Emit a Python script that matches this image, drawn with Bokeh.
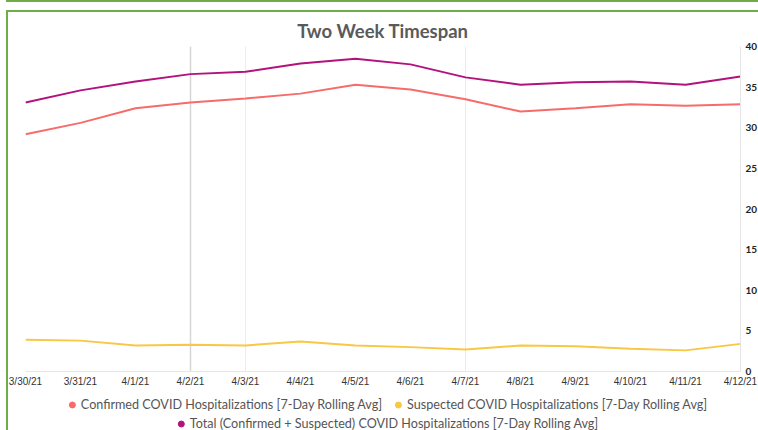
from bokeh.plotting import figure
from bokeh.layouts import column
from bokeh.models import (ColumnDataSource, Range1d, FixedTicker, Legend, LegendItem, Grid)
from bokeh.embed import file_html
from bokeh.resources import INLINE

dates = ["3/30/21", "3/31/21", "4/1/21", "4/2/21", "4/3/21", "4/4/21", "4/5/21",
         "4/6/21", "4/7/21", "4/8/21", "4/9/21", "4/10/21", "4/11/21", "4/12/21"]
confirmed = [29.2, 30.6, 32.4, 33.1, 33.6, 34.2, 35.3, 34.7, 33.5, 32.0, 32.4, 32.9, 32.7, 32.9]
suspected = [3.9, 3.8, 3.2, 3.3, 3.2, 3.7, 3.2, 3.0, 2.7, 3.2, 3.1, 2.8, 2.6, 3.4]
total = [33.1, 34.6, 35.7, 36.6, 36.9, 37.9, 38.5, 37.8, 36.2, 35.3, 35.6, 35.7, 35.3, 36.3]
y_ticks = [0, 5, 10, 15, 20, 25, 30, 35, 40]
grid_dates = ["3/30/21", "4/3/21", "4/7/21", "4/12/21"]
hi_date = ["4/2/21"]

names = ["Confirmed COVID Hospitalizations [7-Day Rolling Avg]",
         "Suspected COVID Hospitalizations [7-Day Rolling Avg]",
         "Total (Confirmed + Suspected) COVID Hospitalizations [7-Day Rolling Avg]"]
colors = ["#f76b6b", "#f9c744", "#b3127d"]
green = "#70ad47"

idx = list(range(len(dates)))
src = ColumnDataSource(dict(x=idx, confirmed=confirmed, suspected=suspected, total=total))
cols = ["confirmed", "suspected", "total"]

p = figure(frame_width=715, frame_height=325, output_backend="svg", toolbar_location=None,
           x_range=Range1d(0, len(dates) - 1), y_range=Range1d(0, 40),
           y_axis_location="right", min_border_left=17, min_border_right=0,
           min_border_top=33, min_border_bottom=22)
p.outline_line_color = None
p.title.text = "Two Week Timespan"
p.title.align = "center"
p.title.text_font = "Lato"
p.title.text_font_size = "18.5px"
p.title.text_font_style = "bold"
p.title.text_color = "#5a5a5a"

p.xgrid.visible = False
p.ygrid.visible = False
g1 = Grid(dimension=0, ticker=FixedTicker(ticks=[dates.index(d) for d in grid_dates]),
          grid_line_color="#ececec", grid_line_width=1)
g2 = Grid(dimension=0, ticker=FixedTicker(ticks=[dates.index(d) for d in hi_date]),
          grid_line_color="#d6d6d6", grid_line_width=1.5)
p.add_layout(g1)
p.add_layout(g2)

xa = p.xaxis[0]
xa.ticker = FixedTicker(ticks=idx)
xa.major_label_overrides = {i: d for i, d in enumerate(dates)}
xa.axis_line_color = "#e6e6e6"
xa.major_tick_line_color = None
xa.minor_tick_line_color = None
xa.major_tick_out = 0
xa.major_tick_in = 0
xa.major_label_standoff = 4
xa.major_label_text_font = "Liberation Sans"
xa.major_label_text_font_size = "10px"
xa.major_label_text_color = "#333333"

ya = p.yaxis[0]
ya.ticker = FixedTicker(ticks=y_ticks)
ya.axis_line_color = "#e6e6e6"
ya.major_tick_line_color = None
ya.minor_tick_line_color = None
ya.major_tick_out = 0
ya.major_tick_in = 0
ya.major_label_standoff = 5
ya.major_label_text_font = "Lato"
ya.major_label_text_font_style = "bold"
ya.major_label_text_font_size = "10px"
ya.major_label_text_color = "#222222"

for c, col in zip(cols, colors):
    p.line("x", c, source=src, line_color=col, line_width=2)

# legend strip below the chart
lp = figure(width=758, height=38, output_backend="svg", toolbar_location=None,
            x_range=Range1d(0, len(dates) - 1), y_range=Range1d(0, 40),
            min_border=0, min_border_left=0, min_border_right=0,
            min_border_top=0, min_border_bottom=0)
lp.outline_line_color = None
lp.axis.visible = False
lp.grid.visible = False
dots = []
for c, col in zip(cols, colors):
    r = lp.scatter("x", c, source=src, size=6, fill_color=col, line_color=col, visible=False)
    dots.append(r)

def mk_legend(items, loc, margin):
    return Legend(items=items, orientation="horizontal", location=loc,
                  label_text_font="Lato", label_text_font_size="12.6px",
                  label_text_color="#555555", glyph_width=15, glyph_height=15,
                  label_height=15, label_standoff=2, spacing=8, padding=1, margin=margin,
                  border_line_color=None, background_fill_alpha=0)

lg1 = mk_legend([LegendItem(label=names[0], renderers=[dots[0]]),
                 LegendItem(label=names[1], renderers=[dots[1]])], "top", 4)
lg2 = mk_legend([LegendItem(label=names[2], renderers=[dots[2]])], "bottom", 0)
lp.add_layout(lg1)
lp.add_layout(lg2)

inner = column(p, lp, spacing=0, margin=(8, 0, 0, 0),
               styles={"border-left": f"2px solid {green}", "border-top": f"2px solid {green}"})
layout = column(inner, spacing=0, margin=(0, 0, 0, 6),
                styles={"border-top": f"2px solid {green}"})

open("out.html", "w").write(file_html(layout, INLINE))
